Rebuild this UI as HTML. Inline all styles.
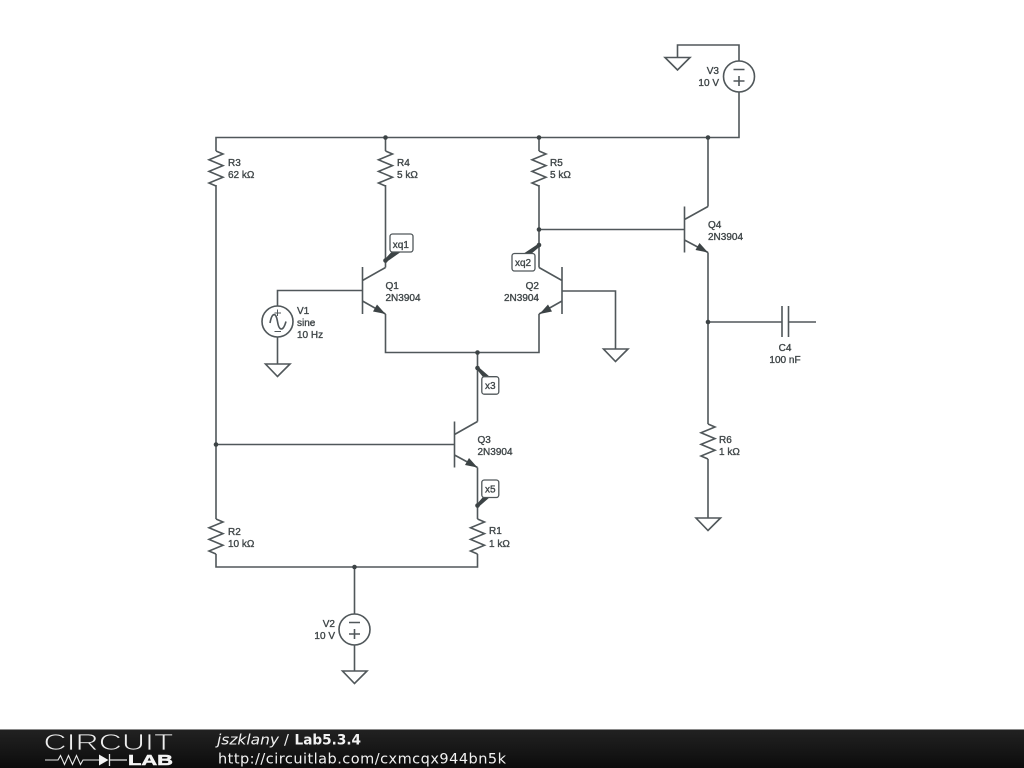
<!DOCTYPE html>
<html>
<head>
<meta charset="utf-8">
<style>
html,body{margin:0;padding:0;background:#fff;width:1024px;height:768px;overflow:hidden}
svg{display:block;position:absolute;left:0;top:0}
text{font-family:"Liberation Sans",sans-serif;font-size:10px;fill:#404749;stroke:#404749;stroke-width:.35px}
.w{fill:none;stroke:#50575a;stroke-width:1.6;stroke-linejoin:miter}
.d{fill:#3c4345;stroke:none}
.tag{fill:#fff;stroke:#50575a;stroke-width:1.3}
.foot{stroke:none}
</style>
</head>
<body>
<svg width="1024" height="768" viewBox="0 0 1024 768" xmlns="http://www.w3.org/2000/svg">
<defs>
<linearGradient id="bar" x1="0" y1="0" x2="0" y2="1"><stop offset="0" stop-color="#222"/><stop offset="1" stop-color="#0c0c0c"/></linearGradient>
</defs>

<!-- main wires -->
<path class="w" d="M216 151V137.500H739V92"/>
<path class="w" d="M739 61V45H677.500V57"/>
<path class="w" d="M385.500 137.500V151M385.500 185V267.500"/>
<path class="w" d="M539 137.500V151M539 185V267.500"/>
<path class="w" d="M708 137.500V206.500M708 252.500V424M708 459V518"/>
<path class="w" d="M216 185V519M216 554V567H477.500V554M477.500 519V467.500M477.500 421.500V352.500"/>
<path class="w" d="M385.500 314V352.500H539V314"/>
<path class="w" d="M216 444.500H454.500"/>
<path class="w" d="M539 229.500H684.500"/>
<path class="w" d="M362 290.500H277.500V306M277.500 337V364"/>
<path class="w" d="M562.500 291H615.500V349"/>
<path class="w" d="M708 322H782M789 322H816"/>
<path class="w" d="M354.500 567V614M354.500 645V671"/>

<!-- resistors -->
<path class="w" d="M216 151l7 3-14 5.800 14 5.800-14 5.800 14 5.800-14 5.800 7 3"/>
<path class="w" d="M385.500 151l7 3-14 5.800 14 5.800-14 5.800 14 5.800-14 5.800 7 3"/>
<path class="w" d="M539 151l7 3-14 5.800 14 5.800-14 5.800 14 5.800-14 5.800 7 3"/>
<path class="w" d="M708 424l7 3-14 5.800 14 5.800-14 5.800 14 5.800-14 5.800 7 3"/>
<path class="w" d="M216 519l7 3-14 5.800 14 5.800-14 5.800 14 5.800-14 5.800 7 3"/>
<path class="w" d="M477.500 519l7 3-14 5.800 14 5.800-14 5.800 14 5.800-14 5.800 7 3"/>

<!-- transistors -->
<path class="w" d="M362.500 267V314M362.500 280.500L385.500 267.500M362.500 301L385.500 314"/>
<path class="d" d="M385.500 314l-12.500-2.500 4-7z"/>
<path class="w" d="M562 267V314M562 280.500L539 267.500M562 301L539 314"/>
<path class="d" d="M539.500 314l12.500-2.500-4-7z"/>
<path class="w" d="M454.500 421.500V467.500M454.500 434.500L477.500 421.500M454.500 455L477.500 467.500"/>
<path class="d" d="M477.500 467.500l-12.500-2.500 4-7z"/>
<path class="w" d="M684.500 206.500V252.500M684.500 219.500L708 206.500M684.500 240L708 252.500"/>
<path class="d" d="M708 252.500l-12.500-2.500 4-7z"/>

<!-- capacitor -->
<path class="w" d="M782 306V337M788.500 306V337"/>

<!-- grounds -->
<path class="w" d="M665 57.500H690L677.500 70Z"/>
<path class="w" d="M265.500 364H290L277.500 376.500Z"/>
<path class="w" d="M603.500 349H628L615.500 361.500Z"/>
<path class="w" d="M696 518H720.500L708 530.500Z"/>
<path class="w" d="M342.500 671H367L354.500 683.500Z"/>

<!-- sources -->
<circle class="w" cx="739" cy="76.500" r="15.500"/>
<path class="w" d="M733.500 69.500H744.500M733.500 81H744.500M739 76V86"/>
<circle class="w" cx="354.500" cy="629.500" r="15.500"/>
<path class="w" d="M349 622.500H360M349 634H360M354.500 629V639"/>
<circle class="w" cx="277.500" cy="321.500" r="15.500"/>
<path class="w" d="M274.500 313H281M277.500 309.500V316M274.500 331.500H281" style="stroke-width:1"/>
<path class="w" d="M270 323C272 312 276 312 277.500 321.500C279 331 283 332 286 321.500"/>

<!-- junction dots -->
<g class="d">
<circle cx="385.500" cy="137.500" r="2.300"/>
<circle cx="539" cy="137.500" r="2.300"/>
<circle cx="708" cy="137.500" r="2.300"/>
<circle cx="539" cy="229.500" r="2.300"/>
<circle cx="477.500" cy="352.500" r="2.300"/>
<circle cx="216" cy="444.500" r="2.300"/>
<circle cx="708" cy="322" r="2.300"/>
<circle cx="354.500" cy="567" r="2.300"/>
</g>

<!-- probes -->
<path class="d" d="M384.500 259.500L386.500 262L400 252.500L391 252.500Z"/>
<circle class="d" cx="385.500" cy="260.500" r="2.300"/>
<rect class="tag" x="390" y="234" width="23" height="18" rx="2.500"/>
<text x="392.800" y="248">xq1</text>

<path class="d" d="M538 244L540.500 246L531 254L523 254Z"/>
<circle class="d" cx="539" cy="245" r="2.300"/>
<rect class="tag" x="512" y="253.500" width="23" height="17.500" rx="2.500"/>
<text x="515" y="265.800">xq2</text>

<path class="d" d="M476.500 369L478.500 367L490 377L483 377Z"/>
<circle class="d" cx="477.500" cy="368" r="2.300"/>
<rect class="tag" x="481.800" y="376.700" width="17" height="17.500" rx="2.500"/>
<text x="485" y="389">x3</text>

<path class="d" d="M476.500 504.500L478.500 507L490 497L483 497Z"/>
<circle class="d" cx="477.500" cy="505.500" r="2.300"/>
<rect class="tag" x="481.800" y="480" width="17" height="17.500" rx="2.500"/>
<text x="485" y="492.500">x5</text>

<!-- labels -->
<text x="228" y="166">R3</text><text x="228" y="178">62 kΩ</text>
<text x="397" y="166">R4</text><text x="397" y="178">5 kΩ</text>
<text x="550" y="166">R5</text><text x="550" y="178">5 kΩ</text>
<text x="719" y="443">R6</text><text x="719" y="455">1 kΩ</text>
<text x="228" y="535">R2</text><text x="228" y="547">10 kΩ</text>
<text x="489" y="534">R1</text><text x="489" y="547">1 kΩ</text>
<text x="385.500" y="289">Q1</text><text x="385.500" y="301">2N3904</text>
<text x="539" y="289" text-anchor="end">Q2</text><text x="539" y="301" text-anchor="end">2N3904</text>
<text x="477.500" y="443">Q3</text><text x="477.500" y="455">2N3904</text>
<text x="708" y="228">Q4</text><text x="708" y="240">2N3904</text>
<text x="297" y="314">V1</text><text x="297" y="326">sine</text><text x="297" y="338">10 Hz</text>
<text x="719" y="74" text-anchor="end">V3</text><text x="719" y="86" text-anchor="end">10 V</text>
<text x="335" y="627" text-anchor="end">V2</text><text x="335" y="639" text-anchor="end">10 V</text>
<text x="785" y="351" text-anchor="middle">C4</text><text x="785" y="363" text-anchor="middle">100 nF</text>

<!-- footer -->
<rect x="0" y="729" width="1024" height="39" fill="url(#bar)"/>
<rect x="0" y="729" width="1024" height="1" fill="#8a8a8a"/>
<text x="43.500" y="750" style="font-size:23.500px;fill:#eee;stroke:#1c1c1c;stroke-width:.8px" textLength="130" lengthAdjust="spacingAndGlyphs">CIRCUIT</text>
<path d="M45 760H58l2.500-4.500 4 9 4-9 4 9 4-9 4 9 2.500-4.500H99" fill="none" stroke="#e8e8e8" stroke-width="1.100"/>
<path d="M99 754.500L108.500 760L99 765.500Z" fill="#f4f4f4"/>
<path d="M109.500 754V766M109 760H127" fill="none" stroke="#e8e8e8" stroke-width="1.300"/>
<text class="foot" x="128" y="765" style="font-size:15px;font-weight:bold;fill:#f4f4f4;stroke:#f4f4f4;stroke-width:.5px" textLength="45" lengthAdjust="spacingAndGlyphs">LAB</text>
<text class="foot" x="217" y="744.500" style="font-family:'DejaVu Sans',sans-serif;font-size:14.500px;font-style:italic;fill:#f2f2f2;stroke:none" textLength="62" lengthAdjust="spacingAndGlyphs">jszklany</text>
<text class="foot" x="284" y="744.500" style="font-family:'DejaVu Sans',sans-serif;font-size:14.500px;fill:#f2f2f2;stroke:none">/</text>
<text class="foot" x="294.500" y="744.500" style="font-family:'DejaVu Sans',sans-serif;font-size:14.500px;font-weight:bold;fill:#f2f2f2;stroke:none" textLength="66.500" lengthAdjust="spacingAndGlyphs">Lab5.3.4</text>
<text class="foot" x="218" y="763.500" style="font-family:'DejaVu Sans',sans-serif;font-size:14.500px;fill:#f2f2f2;stroke:none" textLength="288">http://circuitlab.com/cxmcqx944bn5k</text>
</svg>
</body>
</html>
